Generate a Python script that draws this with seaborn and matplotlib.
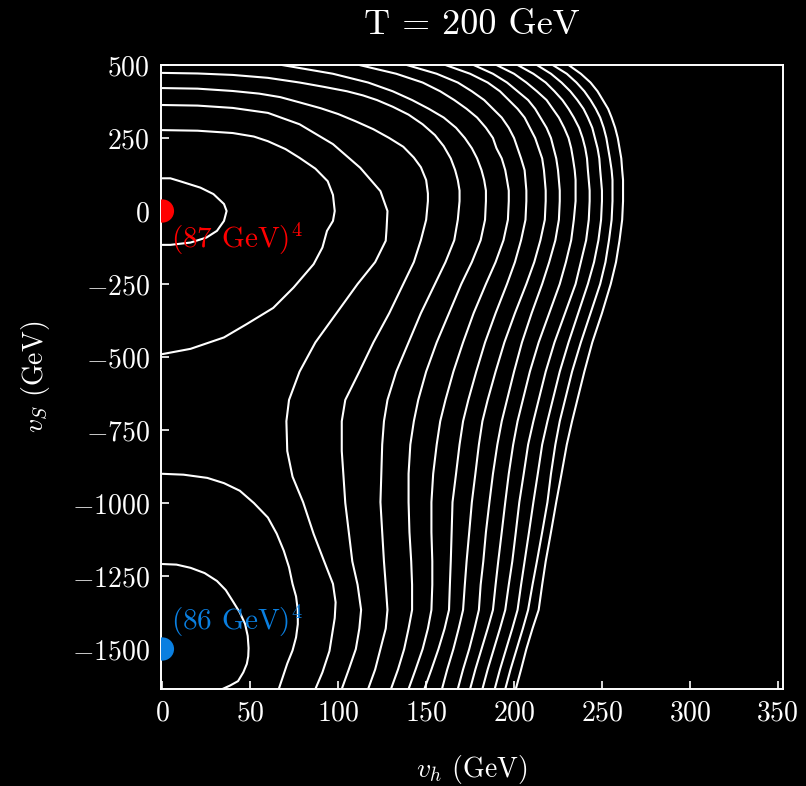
import matplotlib
matplotlib.use("Agg")
import matplotlib.pyplot as plt
import seaborn as sns

# contour lines of the potential (v_h, v_S in GeV)
rows_vs = [500, 470, 440, 410, 380, 350, 320, 285, 250, 215, 180, 140, 106, 70, 34,
           -30, -100, -175, -250, -350, -450, -550, -647, -720, -800, -900, -997,
           -1100, -1200, -1280, -1366, -1430, -1500, -1570, -1637]

# open contours running from the top edge to the bottom edge, v_h at rows_vs
c6_vh = [68, 97, 117, 131, 142, 151.5, 160, 167, 172, 176, 179, 181.5, 183, 184, 184,
         183.5, 181, 176, 170, 163, 156, 150, 145.5, 143, 141, 140, 140,
         140.5, 141.5, 142, 142, 140, 137.5, 134, 130]
c7_vh = [112, 133, 148, 158, 166, 173, 179, 184, 188, 190, 193, 195, 196, 197, 197,
         196.5, 194, 189.5, 184, 177, 171, 165.5, 161, 158, 156, 154, 153,
         153, 153.5, 153.5, 153, 151, 148, 144, 140]
c8_vh = [139, 156, 168, 176, 183, 188, 193, 197, 200, 202, 204, 206, 206.5, 207, 207,
         206.5, 204, 200.5, 196, 189.5, 183.5, 178.5, 174, 171, 169, 167, 165,
         164.5, 164, 163.5, 163, 160.5, 157, 153, 149]
c9_vh = [161, 175, 185, 192, 197, 202, 206, 209, 212, 214, 216, 217, 217.5, 218, 218,
         217.5, 215, 211.5, 207, 200.5, 194.5, 189.5, 185, 182, 180, 178, 176,
         174.5, 173, 172, 171, 168.5, 165.5, 162, 159]
c10_vh = [177, 188, 196, 202, 208, 212, 215, 218.5, 221, 222.5, 224, 225, 225.5, 226, 226,
          225.5, 223.5, 220, 216, 210, 204.5, 200, 196, 193, 190.5, 188, 186,
          184, 182.5, 181, 180, 177.5, 174.5, 171, 168]
c11_vh = [190, 200, 207, 213, 218.5, 222, 225.5, 228.5, 231, 232.5, 233.5, 234.5, 235, 235, 235,
          234, 232.5, 229.5, 226, 220, 214, 209, 205, 202, 199.5, 197, 195,
          193, 191, 189.5, 188, 185, 181.5, 178, 175]
c12_vh = [202, 211, 218, 223, 227.5, 231, 234, 237, 239, 240.5, 241.5, 242, 242.5, 243, 243,
          242.5, 241, 238, 235, 229, 223, 218, 214, 211, 208, 205.5, 203,
          201, 199, 197, 195, 192, 188.5, 185, 182]
c13_vh = [213, 221, 227, 232, 236, 239.5, 242, 244.5, 246, 247.5, 248.5, 249, 249.5, 250, 250,
          249.5, 248, 245.5, 242, 236.5, 231, 226, 222, 219, 216, 213.5, 211,
          208.5, 206, 204, 202, 199, 195.5, 192, 189]
c14_vh = [222, 230, 235.5, 240, 243.5, 246.5, 249, 251, 252.5, 253.5, 254.5, 255.5, 256, 256, 256,
          255.5, 254, 252, 249, 243.5, 238, 233, 229, 226, 223.5, 221, 219,
          216, 213, 210.5, 208, 205, 201.5, 198, 195]
c15_vh = [231, 238, 243.5, 247.5, 250.5, 253.5, 255.5, 257.5, 259, 260, 261, 261.5, 262, 262, 262,
          261.5, 260, 258, 255, 250, 244.5, 240, 236, 233, 230, 227, 224,
          221, 218, 216, 214, 210.5, 207, 204, 201]

# contours that start on the v_S axis
c1_vh = [0, 4.5, 10, 21.6, 29, 35, 36.5, 35, 31, 25, 16, 4.5, 0]
c1_vs = [112, 112, 102, 80, 58, 24, 0, -34, -68, -91, -108, -116, -116]

c2_vh = [0, 20, 40, 52, 60, 70, 78, 87, 94, 97, 98, 97, 93.6, 91, 86, 74.6, 63, 48, 35, 16, 0]
c2_vs = [277, 275, 267, 255, 239, 212, 182, 145, 102, 55, 0, -34, -68, -125, -182,
         -262, -332, -387, -433, -472, -490]

c3_vh = [0, 20, 40, 60, 78, 97, 112.5, 124, 128, 127.5, 127, 121, 111, 99, 87, 78, 72,
         70.5, 71, 74, 80, 86, 92, 97, 98.5, 98, 95, 91, 87]
c3_vs = [363, 361, 353, 336, 297, 229, 148, 68, 0, -60, -102, -175, -250, -350, -450,
         -550, -647, -720, -822, -910, -997, -1106, -1200, -1277, -1340, -1394, -1507,
         -1580, -1637]

c4_vh = [0, 20, 40, 55, 67, 78, 90, 100, 110, 120, 129, 137, 143, 147, 150, 151, 151,
         150, 147, 143, 137, 129, 120, 112, 104, 102, 102, 103, 104, 106, 108, 111,
         113, 112, 110, 106, 102]
c4_vs = [421, 419, 411, 402, 390, 372, 352, 332, 307, 280, 250, 220, 183, 150, 106, 60, 34,
         -30, -100, -175, -250, -350, -450, -550, -647, -720, -822, -910, -1000, -1100,
         -1200, -1280, -1366, -1430, -1500, -1570, -1637]

c5_vh = [0, 20, 40, 60, 78, 92, 105, 114, 122, 131, 140, 148, 155, 160, 164, 166.5, 168,
         169, 169, 168, 166, 161, 155, 147, 140, 133, 128, 126, 125, 124.5, 124, 125,
         126, 127, 128, 127, 124, 121, 117]
c5_vs = [473, 471, 466, 456, 440, 425, 410, 396, 380, 357, 330, 297, 260, 222, 180, 140,
         106, 70, 34, -30, -100, -175, -250, -350, -450, -550, -647, -720, -800, -900,
         -997, -1100, -1200, -1280, -1366, -1430, -1500, -1570, -1637]

b1_vh = [0, 8, 16, 24, 31, 36, 40, 44, 47, 48.5, 49, 48.8, 48, 46, 43, 38.5, 33]
b1_vs = [-1209, -1211, -1222, -1240, -1267, -1298, -1336, -1375, -1414, -1455, -1497,
         -1525, -1551, -1580, -1610, -1625, -1640]

b2_vh = [0, 12, 25.5, 35, 44, 52, 60, 65, 69, 72, 74, 76, 77, 77, 76, 74, 71, 68.5, 66]
b2_vs = [-900, -903, -914, -932, -958, -1000, -1050, -1105, -1163, -1220, -1277, -1320,
         -1368, -1415, -1460, -1505, -1550, -1595, -1640]

# the two minima
min_vh = [0, 0]
min_vs = [0, -1500]
min_labels = [r"(87 GeV)$^4$", r"(86 GeV)$^4$"]
min_colors = ["#ff0000", "#0a7fe0"]

sns.set_theme(style="dark")
plt.rcParams.update({
    "font.family": "serif",
    "font.serif": ["cmr10"],
    "mathtext.fontset": "cm",
    "axes.formatter.use_mathtext": True,
    "axes.unicode_minus": True,
})

fig = plt.figure(figsize=(8.06, 7.86), dpi=100, facecolor="black")
ax = fig.add_axes([0.1998, 0.1234, 0.7717, 0.7939])
ax.set_facecolor("black")

lw = 1.5
open_lines = [c6_vh, c7_vh, c8_vh, c9_vh, c10_vh, c11_vh, c12_vh, c13_vh, c14_vh, c15_vh]
for vh in open_lines:
    sns.lineplot(x=vh, y=rows_vs, sort=False, estimator=None, color="white", lw=lw, ax=ax)

axis_lines = [(c1_vh, c1_vs), (c2_vh, c2_vs), (c3_vh, c3_vs), (c4_vh, c4_vs),
              (c5_vh, c5_vs), (b1_vh, b1_vs), (b2_vh, b2_vs)]
for vh, vs in axis_lines:
    sns.lineplot(x=vh, y=vs, sort=False, estimator=None, color="white", lw=lw, ax=ax)

sns.scatterplot(x=min_vh, y=min_vs, hue=min_labels, palette=min_colors, s=280,
                linewidth=0, legend=False, ax=ax, zorder=5)

ax.text(5, -95, min_labels[0], color=min_colors[0], fontsize=21, va="center", ha="left")
ax.text(5, -1405, min_labels[1], color=min_colors[1], fontsize=21, va="center", ha="left")

ax.set_xlim(-0.8, 353)
ax.set_ylim(-1637, 500)
ax.set_xticks([0, 50, 100, 150, 200, 250, 300, 350])
ax.set_yticks([500, 250, 0, -250, -500, -750, -1000, -1250, -1500])

for side in ["left", "bottom", "right", "top"]:
    ax.spines[side].set_visible(True)
    ax.spines[side].set_color("white")
    ax.spines[side].set_linewidth(1.4)
ax.grid(False)
ax.tick_params(direction="in", colors="white", length=6, width=1.2,
               labelsize=20, pad=8, bottom=True, left=True)

ax.set_xlabel(r"$v_h$ (GeV)", color="white", fontsize=20, labelpad=19)
ax.set_ylabel(r"$v_S$ (GeV)", color="white", fontsize=20, labelpad=14)
ax.set_title("T = 200 GeV", color="white", fontsize=26, pad=22)

fig.savefig("out.png", dpi=100, facecolor="black")
